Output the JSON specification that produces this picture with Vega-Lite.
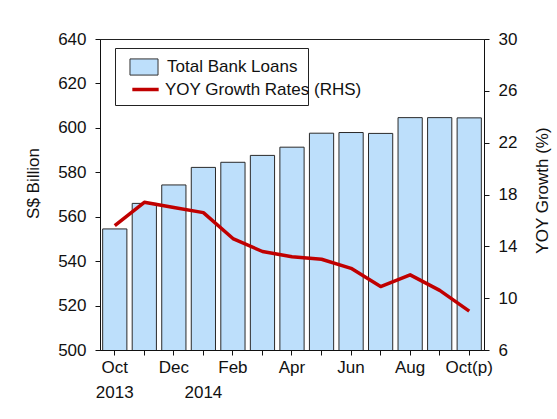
{
  "$schema": "https://vega.github.io/schema/vega-lite/v6.json",
  "autosize": "none",
  "padding": {"left": 100, "top": 39, "right": 73, "bottom": 69},
  "width": 384,
  "height": 311,
  "background": "white",
  "config": {
    "font": "Liberation Sans",
    "view": {"stroke": "#222", "strokeWidth": 1},
    "axis": {
      "grid": false,
      "domainColor": "#111",
      "tickColor": "#111",
      "labelColor": "#111",
      "titleColor": "#111",
      "labelFont": "Liberation Sans",
      "titleFont": "Liberation Sans",
      "labelFontSize": 17,
      "titleFontSize": 17,
      "titleFontWeight": "normal",
      "tickSize": 5
    },
    "legend": {
      "labelFont": "Liberation Sans",
      "labelFontSize": 17,
      "labelColor": "#111",
      "labelLimit": 400,
      "symbolSize": 289,
      "symbolOffset": 10,
      "labelOffset": 14,
      "padding": 10,
      "direction": "vertical"
    }
  },
  "data": {
    "values": [
      {"month": "Oct", "loans": 554.5, "growth": 15.6},
      {"month": "Nov", "loans": 566.0, "growth": 17.4},
      {"month": "Dec", "loans": 574.3, "growth": 17.0},
      {"month": "Jan", "loans": 582.2, "growth": 16.6},
      {"month": "Feb", "loans": 584.5, "growth": 14.6},
      {"month": "Mar", "loans": 587.6, "growth": 13.6},
      {"month": "Apr", "loans": 591.3, "growth": 13.2},
      {"month": "May", "loans": 597.6, "growth": 13.0},
      {"month": "Jun", "loans": 597.9, "growth": 12.3},
      {"month": "Jul", "loans": 597.5, "growth": 10.9},
      {"month": "Aug", "loans": 604.6, "growth": 11.8},
      {"month": "Sep", "loans": 604.6, "growth": 10.6},
      {"month": "Oct(p)", "loans": 604.5, "growth": 9.0}
    ]
  },
  "encoding": {
    "x": {
      "field": "month",
      "type": "ordinal",
      "sort": null,
      "scale": {"paddingInner": 0.18, "paddingOuter": 0.09},
      "axis": {
        "title": null,
        "labelAngle": 0,
        "labelPadding": 4,
        "labelLineHeight": 25,
        "labelExpr": "datum.value == 'Oct' ? ['Oct','2013'] : datum.value == 'Jan' ? ['','2014'] : (indexof(['Dec','Feb','Apr','Jun','Aug','Oct(p)'], datum.value) >= 0 ? datum.value : '')"
      }
    }
  },
  "layer": [
    {
      "mark": {"type": "bar", "stroke": "#2a2a2a", "strokeWidth": 1, "fillOpacity": 1, "clip": true},
      "encoding": {
        "y": {
          "field": "loans",
          "type": "quantitative",
          "scale": {"domain": [500, 640], "nice": false, "zero": false},
          "axis": {
            "title": "S$ Billion",
            "orient": "left",
            "values": [500, 520, 540, 560, 580, 600, 620, 640],
            "labelPadding": 9,
            "titleX": -67,
            "titleY": 144,
            "titleAlign": "center",
            "titleBaseline": "middle"
          }
        },
        "fill": {
          "datum": "Total Bank Loans",
          "type": "nominal",
          "scale": {"domain": ["Total Bank Loans"], "range": ["#BDDFFB"]},
          "legend": {
            "orient": "none",
            "legendX": 15,
            "legendY": 9,
            "zindex": 1,
            "title": "\u00a0\u00a0\u00a0\u00a0\u00a0\u00a0\u00a0\u00a0\u00a0\u00a0\u00a0\u00a0\u00a0\u00a0\u00a0\u00a0\u00a0\u00a0\u00a0\u00a0\u00a0\u00a0\u00a0\u00a0\u00a0\u00a0\u00a0\u00a0\u00a0\u00a0\u00a0\u00a0\u00a0\u00a0\u00a0\u00a0\u00a0\u00a0\u00a0\u00a0\u00a0\u00a0\u00a0\u00a0\u00a0\u00a0\u00a0\u00a0\u00a0\u00a0\u00a0\u00a0\u00a0\u00a0\u00a0\u00a0",
            "titleOrient": "bottom",
            "titleFontSize": 17,
            "titleLimit": 600,
            "titlePadding": 2,
            "fillColor": "white",
            "strokeColor": "#222",
            "symbolType": "M-1.65,-0.95H1.65V0.95H-1.65Z",
            "symbolStrokeColor": "#333",
            "symbolStrokeWidth": 1,
            "symbolOpacity": 1
          }
        }
      }
    },
    {
      "mark": {"type": "line", "strokeWidth": 3.5, "strokeJoin": "round"},
      "encoding": {
        "y": {
          "field": "growth",
          "type": "quantitative",
          "scale": {"domain": [6, 30], "nice": false, "zero": false},
          "axis": {
            "title": "YOY Growth (%)",
            "orient": "right",
            "titleAngle": 270,
            "titleX": 58,
            "titleY": 151,
            "titleAlign": "center",
            "titleBaseline": "middle",
            "values": [6, 10, 14, 18, 22, 26, 30],
            "labelPadding": 9
          }
        },
        "stroke": {
          "datum": "YOY Growth Rates (RHS)",
          "type": "nominal",
          "scale": {"domain": ["YOY Growth Rates (RHS)"], "range": ["#C00000"]},
          "legend": {
            "orient": "none",
            "legendX": 15,
            "legendY": 30,
            "zindex": 2,
            "title": null,
            "labelOffset": 9,
            "symbolType": "M-1.55,0H1.55",
            "symbolStrokeWidth": 3.5,
            "symbolOpacity": 1
          }
        }
      }
    }
  ],
  "resolve": {"scale": {"y": "independent"}}
}
